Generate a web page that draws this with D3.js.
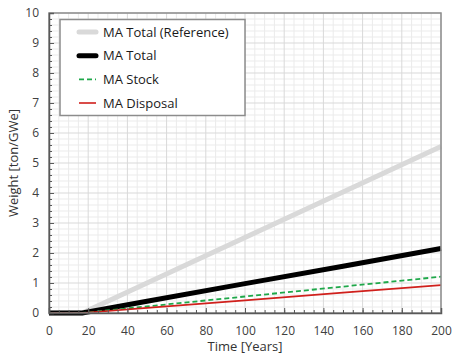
<!DOCTYPE html>
<html>
<head>
<meta charset="utf-8">
<script src="https://cdn.jsdelivr.net/npm/d3@7"></script>
<style>
  body { margin: 0; background: #fff; }
  text { font-family: "Open Sans", sans-serif; }
</style>
</head>
<body>
<div id="chart"></div>
<script>
// values
const years = [0, 10, 17, 50, 100, 150, 200];
const maTotalRef = [0, 0, 0, 1.00, 2.52, 4.03, 5.55];
const maTotal = [0, 0, 0, 0.39, 0.98, 1.56, 2.15];
const maStock = [0, 0, 0, 0.22, 0.55, 0.88, 1.21];
const maDisposal = [0, 0, 0, 0.17, 0.42, 0.68, 0.93];

const xTicks = [0, 20, 40, 60, 80, 100, 120, 140, 160, 180, 200];
const yTicks = [0, 1, 2, 3, 4, 5, 6, 7, 8, 9, 10];

const series = [
    { key: "MA Total (Reference)", values: maTotalRef, stroke: "#d9d9d9", width: 5, dash: null },
    { key: "MA Total", values: maTotal, stroke: "#000000", width: 5, dash: null },
    { key: "MA Stock", values: maStock, stroke: "#1fa84a", width: 1.8, dash: "5,3" },
    { key: "MA Disposal", values: maDisposal, stroke: "#d0201c", width: 1.6, dash: null }
];

const W = 452, H = 354;
const margin = {top: 13, right: 11, bottom: 41, left: 49};
const innerW = W - margin.left - margin.right,
      innerH = H - margin.top - margin.bottom;

const svg = d3.select("#chart").append("svg")
    .attr("width", W)
    .attr("height", H);

const x = d3.scaleLinear().domain([0, 200]).range([0, innerW]);
const y = d3.scaleLinear().domain([0, 10]).range([innerH, 0]);

const g = svg.append("g")
    .attr("transform", `translate(${margin.left},${margin.top})`);

// minor grid
g.append("g")
    .selectAll("line")
    .data(d3.range(0, 201, 5).filter(function(d) { return d % 20 !== 0; }))
    .join("line")
    .attr("x1", function(d) { return x(d); })
    .attr("x2", function(d) { return x(d); })
    .attr("y1", 0).attr("y2", innerH)
    .attr("stroke", "#ebebeb").attr("stroke-width", 1);

g.append("g")
    .selectAll("line")
    .data(d3.range(0, 50).map(function(i) { return i * 0.2; }).filter(function(d, i) { return i % 5 !== 0; }))
    .join("line")
    .attr("x1", 0).attr("x2", innerW)
    .attr("y1", function(d) { return y(d); })
    .attr("y2", function(d) { return y(d); })
    .attr("stroke", "#ebebeb").attr("stroke-width", 1);

// major grid
g.append("g")
    .selectAll("line")
    .data(xTicks)
    .join("line")
    .attr("x1", function(d) { return x(d); })
    .attr("x2", function(d) { return x(d); })
    .attr("y1", 0).attr("y2", innerH)
    .attr("stroke", "#d9d9d9").attr("stroke-width", 1);

g.append("g")
    .selectAll("line")
    .data(yTicks)
    .join("line")
    .attr("x1", 0).attr("x2", innerW)
    .attr("y1", function(d) { return y(d); })
    .attr("y2", function(d) { return y(d); })
    .attr("stroke", "#d9d9d9").attr("stroke-width", 1);

// series
const line = d3.line()
    .x(function(d) { return x(d[0]); })
    .y(function(d) { return y(d[1]); });

g.append("g")
    .selectAll("path")
    .data(series)
    .join("path")
    .attr("fill", "none")
    .attr("stroke", function(d) { return d.stroke; })
    .attr("stroke-width", function(d) { return d.width; })
    .attr("stroke-dasharray", function(d) { return d.dash ? d.dash : null; })
    .attr("d", function(d) { return line(years.map(function(yr, i) { return [yr, d.values[i]]; })); });

// frame
g.append("rect")
    .attr("width", innerW).attr("height", innerH)
    .attr("fill", "none")
    .attr("stroke", "#8c8c8c").attr("stroke-width", 1.5);

// axes, ticks drawn inward
g.append("g")
    .attr("transform", `translate(0,${innerH})`)
    .call(d3.axisBottom(x).tickValues(xTicks).tickSize(-5).tickPadding(13).tickFormat(d3.format("d")));
g.append("g")
    .attr("transform", `translate(0,${innerH})`)
    .call(d3.axisBottom(x).tickValues(d3.range(0, 201, 5)).tickSize(-3).tickFormat(""))
    .call(function(a) { a.select(".domain").remove(); });

g.append("g")
    .call(d3.axisLeft(y).tickValues(yTicks).tickSize(-5).tickPadding(10).tickFormat(d3.format("d")));
g.append("g")
    .call(d3.axisLeft(y).tickValues(d3.range(0, 51).map(function(i) { return i * 0.2; })).tickSize(-3).tickFormat(""))
    .call(function(a) { a.select(".domain").remove(); });

g.selectAll(".domain").attr("stroke", "#595959").attr("stroke-width", 1.5);
g.selectAll(".tick line").attr("stroke", "#595959");
g.selectAll(".tick text")
    .attr("font-family", "Open Sans, sans-serif")
    .attr("font-size", 12)
    .attr("fill", "#404040");

// axis titles
svg.append("text")
    .attr("x", margin.left + innerW / 2)
    .attr("y", 351)
    .attr("text-anchor", "middle")
    .attr("font-size", 13)
    .attr("fill", "#333")
    .text("Time [Years]");

svg.append("text")
    .attr("transform", `translate(18,${margin.top + innerH / 2}) rotate(-90)`)
    .attr("text-anchor", "middle")
    .attr("font-size", 13)
    .attr("fill", "#333")
    .text("Weight [ton/GWe]");

// legend
const legend = svg.append("g");
legend.append("rect")
    .attr("x", 60).attr("y", 19.5)
    .attr("width", 185).attr("height", 96)
    .attr("fill", "#fff")
    .attr("stroke", "#8c8c8c").attr("stroke-width", 1.5);

const legendY = d3.scalePoint(series.map(function(d) { return d.key; }), [32, 103]);

const items = legend.selectAll("g.item")
    .data(series)
    .join("g")
    .attr("class", "item")
    .attr("transform", function(d) { return `translate(0,${legendY(d.key)})`; });

items.append("line")
    .attr("x1", 79).attr("x2", 96)
    .attr("stroke", function(d) { return d.stroke; })
    .attr("stroke-width", function(d) { return d.width; })
    .attr("stroke-linecap", function(d) { return d.width > 3 ? "round" : null; })
    .attr("stroke-dasharray", function(d) { return d.dash ? d.dash : null; });

items.append("text")
    .attr("x", 103)
    .attr("dy", "0.35em")
    .attr("font-size", 13)
    .attr("fill", "#1a1a1a")
    .text(function(d) { return d.key; });
</script>
</body>
</html>
